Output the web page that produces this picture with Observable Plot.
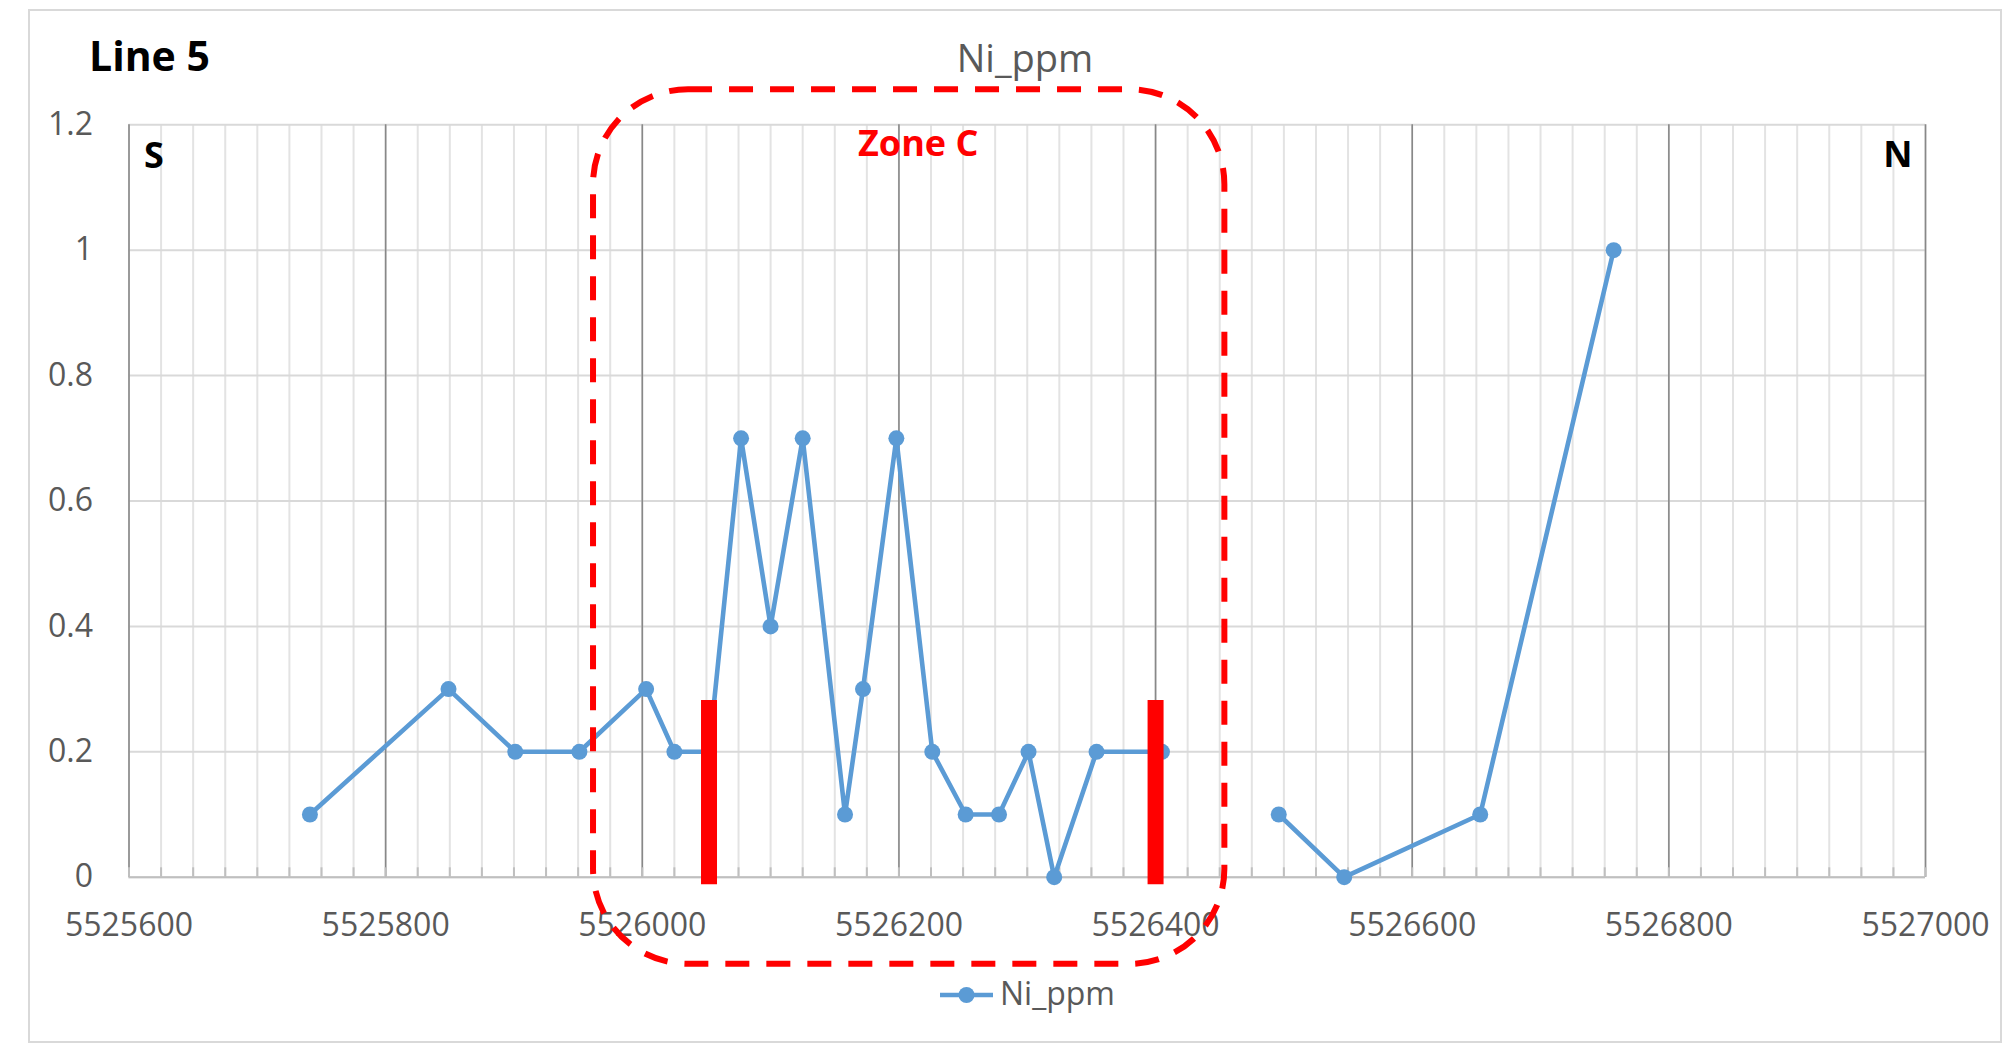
<!DOCTYPE html>
<html>
<head>
<meta charset="utf-8">
<script src="https://cdn.jsdelivr.net/npm/d3@7"></script>
<script src="https://cdn.jsdelivr.net/npm/@observablehq/plot@0.6"></script>
<style>
  html, body { margin: 0; padding: 0; background: #fff; overflow: hidden; }
  #wrap { position: relative; width: 2003px; height: 1051px; font-family: "Open Sans", sans-serif; }
  #wrap svg { position: absolute; left: 0; top: 0; }
</style>
</head>
<body>
<div id="wrap">
  <svg id="overlay" width="2003" height="1051" style="pointer-events:none">
    <rect x="29" y="10" width="1972" height="1032" fill="none" stroke="#d9d9d9" stroke-width="2"></rect>
  </svg>
</div>
<script>
// ---- data ----
const eastings = [5525741, 5525849, 5525901, 5525951, 5526003, 5526025, 5526052,
                  5526077, 5526100, 5526125, 5526158, 5526172, 5526198,
                  5526226, 5526252, 5526278, 5526301, 5526321, 5526354, 5526405,
                  5526496, 5526547, 5526653, 5526757];
const niPpm    = [0.1, 0.3, 0.2, 0.2, 0.3, 0.2, 0.2,
                  0.7, 0.4, 0.7, 0.1, 0.3, 0.7,
                  0.2, 0.1, 0.1, 0.2, 0, 0.2, 0.2,
                  0.1, 0, 0.1, 1.0];
const segment  = [1, 1, 1, 1, 1, 1, 1,
                  1, 1, 1, 1, 1, 1,
                  1, 1, 1, 1, 1, 1, 1,
                  2, 2, 2, 2];
const xTicks = [5525600, 5525800, 5526000, 5526200, 5526400, 5526600, 5526800, 5527000];
const yTicks = [0, 0.2, 0.4, 0.6, 0.8, 1, 1.2];
const minorStep = 25;
const zoneBounds = [5526052, 5526400];
const zoneBarRange = [-0.012, 0.282];
const zoneBox = {x1: 5525962, x2: 5526454, y1: -0.139, y2: 1.256};
const zoneLabel = {x: 5526215, y: 1.168, text: "Zone C"};
const seriesName = "Ni_ppm";

const rows = eastings.map((e, i) => ({easting: e, ni: niPpm[i], seg: segment[i]}));
const minorTicks = d3.range(xTicks[0], xTicks[xTicks.length - 1] + 1, minorStep);

const blue = "#5B9BD5";
const gray = "#595959";

const chart = Plot.plot({
  width: 2003,
  height: 1051,
  marginLeft: 128.5,
  marginRight: 78,
  marginTop: 124.3,
  marginBottom: 174.3,
  style: {fontFamily: "'Open Sans', sans-serif", background: "transparent", color: gray, overflow: "visible"},
  x: {domain: [xTicks[0], xTicks[xTicks.length - 1]]},
  y: {domain: [yTicks[0], yTicks[yTicks.length - 1]]},
  marks: [
    Plot.ruleX(minorTicks, {stroke: "#e3e3e3", strokeWidth: 2}),
    Plot.ruleY(yTicks, {stroke: "#d9d9d9", strokeWidth: 2}),
    Plot.ruleX(xTicks, {stroke: "#888888", strokeWidth: 1.6}),
    Plot.ruleY([0], {stroke: "#bfbfbf", strokeWidth: 2}),
    Plot.ruleX(minorTicks, {y1: 0, y2: 0.015, stroke: "#bfbfbf", strokeWidth: 2}),
    Plot.axisX({ticks: xTicks, tickSize: 0, tickPadding: 36, tickFormat: d => String(d), fontSize: 32, fill: gray, label: null}),
    Plot.axisY({ticks: yTicks, tickSize: 0, tickPadding: 36, tickFormat: d => String(d), fontSize: 32, fill: gray, label: null}),
    Plot.line(rows, {x: "easting", y: "ni", z: "seg", stroke: blue, strokeWidth: 4.6, strokeLinejoin: "round"}),
    Plot.dot(rows, {x: "easting", y: "ni", r: 8, fill: blue, stroke: "none"}),
    Plot.ruleX(zoneBounds, {y1: zoneBarRange[0], y2: zoneBarRange[1], stroke: "#ff0000", strokeWidth: 16}),
    Plot.rect([zoneBox], {x1: "x1", x2: "x2", y1: "y1", y2: "y2", rx: 95, ry: 95, fill: "none", stroke: "#ff0000", strokeWidth: 6, strokeDasharray: "24,17"}),
    Plot.text([zoneLabel], {x: "x", y: "y", text: "text", fill: "#ff0000", fontWeight: "bold", fontSize: 36}),
    Plot.text(["S"], {frameAnchor: "top-left", dx: 25, dy: 32, text: d => d, fill: "#000", fontWeight: "bold", fontSize: 36, textAnchor: "middle", lineAnchor: "middle"}),
    Plot.text(["N"], {frameAnchor: "top-right", dx: -27.5, dy: 31, text: d => d, fill: "#000", fontWeight: "bold", fontSize: 36, textAnchor: "middle", lineAnchor: "middle"})
  ]
});

const wrap = document.getElementById("wrap");
wrap.insertBefore(chart, document.getElementById("overlay"));

// titles & legend (text, drawn in an overlay svg)
const ov = d3.select("#overlay");
ov.append("text").attr("x", 89).attr("y", 71).attr("font-family", "'Open Sans', sans-serif")
  .attr("font-size", 41).attr("font-weight", "bold").attr("fill", "#000").text("Line 5");
ov.append("text").attr("x", 1025).attr("y", 72).attr("text-anchor", "middle")
  .attr("font-family", "'Open Sans', sans-serif").attr("font-size", 38).attr("fill", gray).text(seriesName);
ov.append("line").attr("x1", 940).attr("x2", 993).attr("y1", 995).attr("y2", 995)
  .attr("stroke", blue).attr("stroke-width", 4.6);
ov.append("circle").attr("cx", 966.5).attr("cy", 995).attr("r", 8).attr("fill", blue);
ov.append("text").attr("x", 1000).attr("y", 1005).attr("font-family", "'Open Sans', sans-serif")
  .attr("font-size", 32).attr("fill", gray).text(seriesName);
</script>
</body>
</html>
